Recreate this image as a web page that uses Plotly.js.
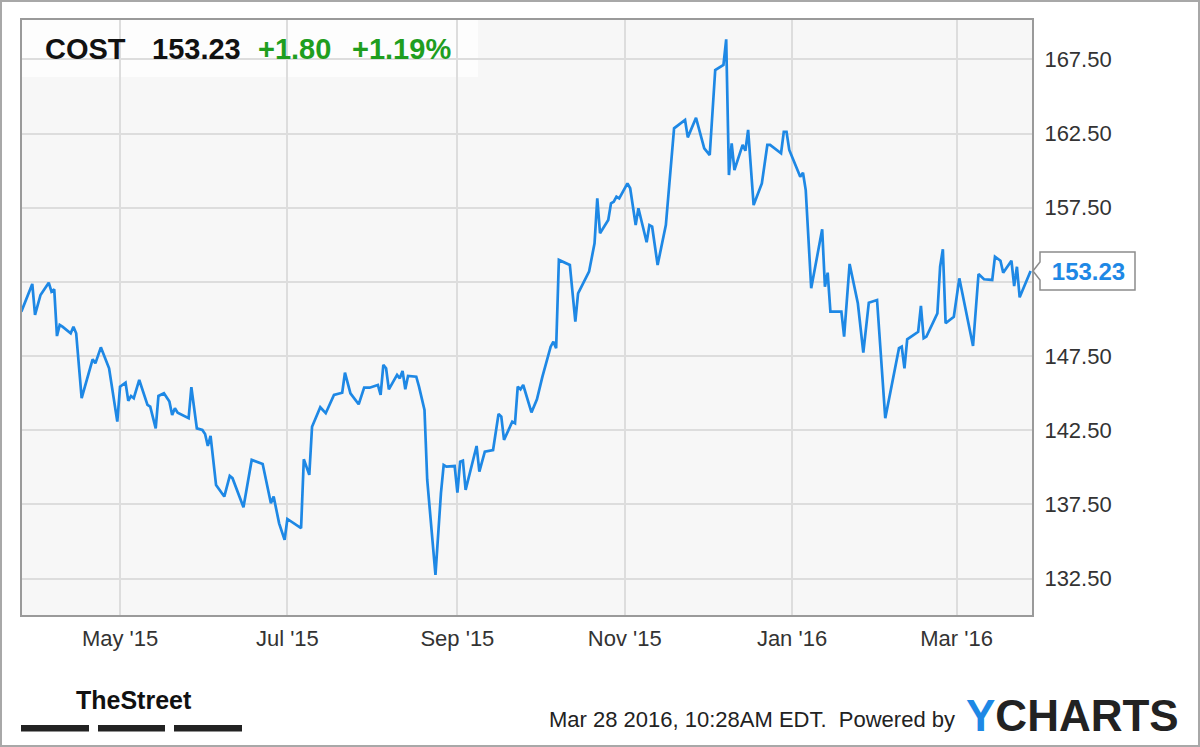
<!DOCTYPE html>
<html>
<head>
<meta charset="utf-8">
<script src="https://cdn.plot.ly/plotly-3.0.1.min.js"></script>
<style>
html,body{margin:0;padding:0;background:#fff;}
#chart{width:1200px;height:747px;}
</style>
</head>
<body>
<div id="chart"></div>
<script>
// ---- data ----
const ticker = "COST";
const lastPrice = 153.23;
const change = "+1.80";
const changePct = "+1.19%";
const timestamp = "Mar 28 2016, 10:28AM EDT.  Powered by";

const dates = [
"2015-03-26","2015-03-30","2015-03-31","2015-04-02","2015-04-05","2015-04-06","2015-04-07","2015-04-08","2015-04-09","2015-04-10",
"2015-04-13","2015-04-14","2015-04-15","2015-04-17","2015-04-21","2015-04-22","2015-04-24","2015-04-27","2015-04-30","2015-05-01",
"2015-05-03","2015-05-04","2015-05-05","2015-05-06","2015-05-08","2015-05-11","2015-05-12","2015-05-14","2015-05-15","2015-05-17",
"2015-05-19","2015-05-20","2015-05-21","2015-05-22","2015-05-26","2015-05-27","2015-05-29","2015-05-31","2015-06-01","2015-06-02",
"2015-06-03","2015-06-05","2015-06-08","2015-06-10","2015-06-11","2015-06-15","2015-06-18","2015-06-20","2015-06-22","2015-06-25",
"2015-06-26","2015-06-28","2015-06-30","2015-07-01","2015-07-06","2015-07-07","2015-07-09","2015-07-10","2015-07-13","2015-07-15",
"2015-07-17","2015-07-18","2015-07-21","2015-07-22","2015-07-24","2015-07-27","2015-07-29","2015-07-31","2015-08-03","2015-08-04",
"2015-08-05","2015-08-06","2015-08-07","2015-08-10","2015-08-11","2015-08-12","2015-08-13","2015-08-14","2015-08-17","2015-08-18",
"2015-08-20","2015-08-21","2015-08-24","2015-08-26","2015-08-27","2015-08-28","2015-08-31","2015-09-01","2015-09-02","2015-09-03",
"2015-09-04","2015-09-08","2015-09-09","2015-09-11","2015-09-14","2015-09-16","2015-09-17","2015-09-18","2015-09-21","2015-09-22",
"2015-09-23","2015-09-24","2015-09-25","2015-09-28","2015-09-30","2015-10-02","2015-10-05","2015-10-06","2015-10-07","2015-10-08",
"2015-10-12","2015-10-14","2015-10-15","2015-10-19","2015-10-21","2015-10-22","2015-10-23","2015-10-26","2015-10-27","2015-10-28",
"2015-10-29","2015-10-30","2015-11-02","2015-11-03","2015-11-05","2015-11-06","2015-11-09","2015-11-10","2015-11-11","2015-11-13",
"2015-11-16","2015-11-18","2015-11-19","2015-11-23","2015-11-24","2015-11-27","2015-11-30","2015-12-02","2015-12-04","2015-12-07",
"2015-12-08","2015-12-09","2015-12-10","2015-12-11","2015-12-14","2015-12-15","2015-12-16","2015-12-18","2015-12-21","2015-12-23",
"2015-12-24","2015-12-28","2015-12-29","2015-12-30","2015-12-31","2016-01-04","2016-01-05","2016-01-06","2016-01-08","2016-01-12",
"2016-01-13","2016-01-14","2016-01-15","2016-01-19","2016-01-20","2016-01-22","2016-01-25","2016-01-27","2016-01-29","2016-02-01",
"2016-02-04","2016-02-09","2016-02-10","2016-02-11","2016-02-12","2016-02-16","2016-02-17","2016-02-18","2016-02-19","2016-02-23",
"2016-02-24","2016-02-25","2016-02-26","2016-02-29","2016-03-02","2016-03-07","2016-03-09","2016-03-11","2016-03-14","2016-03-15",
"2016-03-17","2016-03-18","2016-03-21","2016-03-22","2016-03-23","2016-03-24","2016-03-28"
];
const prices = [
150.49,152.36,150.27,151.62,152.45,151.84,152.00,148.85,149.60,149.48,
149.04,149.48,149.04,144.66,147.28,147.01,148.09,146.68,143.08,145.44,
145.71,144.49,144.81,144.66,145.89,144.21,144.09,142.63,144.81,144.99,
144.43,143.53,143.98,143.69,143.31,145.40,142.63,142.52,142.25,141.44,
142.12,138.81,138.03,139.42,139.27,137.31,140.50,140.34,140.23,137.58,
138.03,136.23,135.11,136.52,135.90,140.55,139.49,142.74,144.05,143.65,
144.54,144.88,145.03,146.38,144.99,144.25,145.37,145.37,145.55,144.88,
146.90,146.68,145.26,146.23,146.00,146.50,145.26,146.16,146.11,145.44,
143.87,139.15,132.75,138.26,140.16,140.05,140.09,138.30,140.38,140.45,
138.48,141.44,139.71,141.06,141.17,143.60,143.42,141.85,143.08,142.97,
145.44,145.26,145.55,143.70,144.59,146.11,148.13,148.47,148.03,153.98,
153.64,149.82,151.73,153.19,155.10,158.13,155.78,156.67,157.80,157.90,
158.24,158.13,159.14,158.81,156.33,157.46,155.17,156.33,156.22,153.64,
156.33,160.83,162.85,163.41,162.24,163.56,161.50,161.05,166.78,167.12,
168.85,159.70,161.84,160.04,161.73,161.34,162.74,157.68,159.14,161.73,
161.73,161.17,162.62,162.62,161.39,159.59,159.86,158.69,152.07,156.04,
152.18,153.12,150.49,150.49,148.81,153.71,151.06,147.73,151.10,151.28,
143.31,148.03,148.13,146.68,148.63,149.14,150.88,148.70,148.81,150.38,
153.52,154.70,149.71,150.15,152.74,148.18,153.03,152.68,152.63,154.20,
153.93,153.12,153.93,152.22,153.52,151.46,153.23
];
const xTickVals = ["2015-05-01","2015-07-01","2015-09-01","2015-11-01","2016-01-01","2016-03-01"];
const xTickText = ["May '15","Jul '15","Sep '15","Nov '15","Jan '16","Mar '16"];
const yTickVals = [132.5, 137.5, 142.5, 147.5, 152.5, 157.5, 162.5, 167.5];
// 152.50 is hidden behind the last-price tag in the reference
const yTickText = ["132.50","137.50","142.50","147.50","","157.50","162.50","167.50"];

// ---- layout helpers (pixel -> paper) ----
const FW = 1200, FH = 747, ML = 22, MT = 20, MR = 168, MB = 132;
const PW = FW - ML - MR, PH = FH - MT - MB;
const px = x => (x - ML) / PW;
const py = y => (MT + PH - y) / PH;

const FONT = "Liberation Sans, Arial, Helvetica, sans-serif";
const BLUE = "#1e88e5";
const GREEN = "#1f9e1f";

const trace = {
  type: "scatter", mode: "lines",
  x: dates, y: prices,
  line: {color: BLUE, width: 2.7},
  hoverinfo: "skip"
};

const shapes = [
  // header background
  {type:"rect", xref:"paper", yref:"paper", x0:px(22), x1:px(478), y0:py(77), y1:py(20),
   fillcolor:"rgba(255,255,255,0.75)", line:{width:0}, layer:"between"},
  // outer frame
  {type:"rect", xref:"paper", yref:"paper", x0:px(1), x1:px(1199), y0:py(746), y1:py(1),
   line:{color:"#a8a8a8", width:2}, fillcolor:"rgba(0,0,0,0)"},
  // last-price tag with notch
  {type:"path", xref:"paper", yref:"y", xsizemode:"pixel", ysizemode:"pixel",
   xanchor:1, yanchor:lastPrice,
   path:"M 1,0 L 8,9 L 8,19 L 103,19 L 103,-19 L 8,-19 L 8,-9 Z",
   fillcolor:"#ffffff", line:{color:"#8c8c8c", width:1.5}},
  // TheStreet bars
  {type:"rect", xref:"paper", yref:"paper", x0:px(21), x1:px(89), y0:py(731.5), y1:py(725), fillcolor:"#222", line:{width:0}},
  {type:"rect", xref:"paper", yref:"paper", x0:px(98), x1:px(165), y0:py(731.5), y1:py(725), fillcolor:"#222", line:{width:0}},
  {type:"rect", xref:"paper", yref:"paper", x0:px(174), x1:px(242), y0:py(731.5), y1:py(725), fillcolor:"#222", line:{width:0}}
];

const hdr = (txt, x, color) => ({
  xref:"paper", yref:"paper", x:px(x), y:py(49), xanchor:"left", yanchor:"middle",
  text:txt, showarrow:false, borderpad:0,
  font:{family:FONT, size:29, color:color, weight:"bold"}
});

const annotations = [
  hdr("<b>"+ticker+"</b>", 44, "#111"),
  hdr("<b>"+lastPrice.toFixed(2)+"</b>", 151, "#111"),
  hdr("<b>"+change+"</b>", 257, GREEN),
  hdr("<b>"+changePct+"</b>", 351, GREEN),
  {xref:"paper", yref:"y", x:1, y:lastPrice, xanchor:"left", yanchor:"middle", xshift:8,
   width:95, align:"center", showarrow:false, borderpad:0,
   text:"<b>"+lastPrice.toFixed(2)+"</b>", font:{family:FONT, size:24, color:BLUE}},
  {xref:"paper", yref:"paper", x:px(75), y:py(700), xanchor:"left", yanchor:"middle",
   showarrow:false, borderpad:0, text:"<b>TheStreet</b>",
   font:{family:FONT, size:25, color:"#111"}},
  {xref:"paper", yref:"paper", x:px(548), y:py(719), xanchor:"left", yanchor:"middle",
   showarrow:false, borderpad:0, text:timestamp.replace(/  /g," &nbsp;"),
   font:{family:FONT, size:22, color:"#222"}},
  {xref:"paper", yref:"paper", x:px(965), y:py(715), xanchor:"left", yanchor:"middle",
   showarrow:false, borderpad:0,
   text:"<b><span style='color:"+BLUE+"'>Y</span>CHARTS</b>",
   font:{family:FONT, size:44, color:"#222"}}
];

const layout = {
  width: FW, height: FH,
  margin: {l:ML, r:MR, t:MT, b:MB, pad:0},
  paper_bgcolor: "#ffffff",
  plot_bgcolor: "#f7f7f7",
  showlegend: false,
  xaxis: {
    type:"date",
    range:["2015-03-26 06:00","2016-03-28 12:00"],
    tickmode:"array", tickvals:xTickVals, ticktext:xTickText,
    showgrid:true, gridcolor:"#dddddd", gridwidth:2,
    ticks:"", ticklabelstandoff:3,
    tickfont:{family:FONT, size:22, color:"#333"},
    showline:true, mirror:true, linecolor:"#9a9a9a", linewidth:2,
    zeroline:false, fixedrange:true
  },
  yaxis: {
    side:"right",
    range:[130.05, 170.15],
    tickmode:"array", tickvals:yTickVals, ticktext:yTickText,
    showgrid:true, gridcolor:"#dddddd", gridwidth:2,
    ticks:"", ticklabelstandoff:6,
    tickfont:{family:FONT, size:22, color:"#333"},
    showline:true, mirror:true, linecolor:"#9a9a9a", linewidth:2,
    zeroline:false, fixedrange:true
  },
  shapes: shapes,
  annotations: annotations
};

Plotly.newPlot("chart", [trace], layout, {staticPlot:true, displayModeBar:false});
</script>
</body>
</html>
